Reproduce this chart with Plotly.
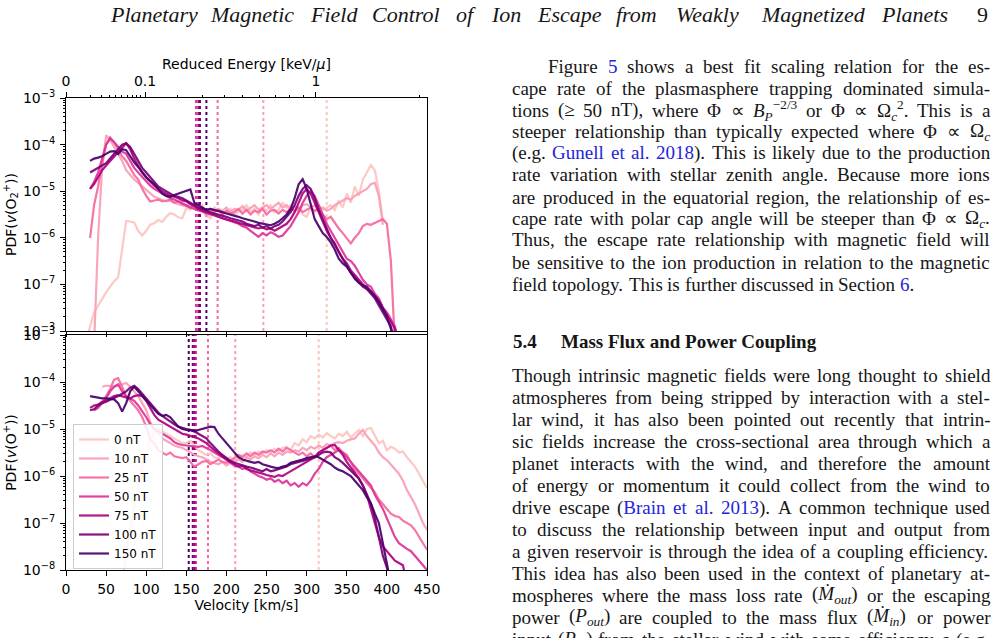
import re
import math
import plotly.graph_objects as go

FIG_W, FIG_H = 996, 638

# ---------------------------------------------------------------- data
# log10(PDF) sampled every V_STEP km/s, each series starting at its *_START velocity
V_STEP = 5
LABELS = ["0 nT", "10 nT", "25 nT", "50 nT", "75 nT", "100 nT", "150 nT"]
COLORS = ["#fcc5c0", "#fa9fb5", "#f768a1", "#dd3497", "#ae017e", "#7a0177", "#49006a"]

# ---- O2+ panel
O2_START = [25, 35, 30, 30, 30, 30, 30]
o2_0nT = [-8.3, -7.9, -7.6, -7.45, -7.3, -7.17, -7.05, -6.93, -6.85, -6.2, -5.64, -5.65, -5.67, -5.85, -5.95,
          -5.85, -5.72, -5.69, -5.62, -5.66, -5.55, -5.47, -5.5, -5.56, -5.58,
          -5.36, -5.4, -5.34, -5.42, -5.3, -5.45, -5.6, -5.35, -5.42, -5.5,
          -5.45, -5.38, -5.52, -5.44, -5.4, -5.3, -5.45, -5.38, -5.5, -5.35,
          -5.42, -5.3, -5.45, -5.4, -5.25, -5.35, -5.3, -5.42, -5.35, -5.5,
          -5.55, -5.35, -5.45, -5.3, -5.4, -5.35, -5.3, -5.4, -5.2, -5.35,
          -5.05, -5.25, -4.9, -5.1, -4.75, -4.6, -4.44, -4.55, -5.0, -5.65]
o2_10nT = [-8.3, -6.0, -4.5, -3.8, -3.9, -4.05, -4.2, -4.35, -4.55, -4.65, -4.75, -4.82, -4.9, -4.98,
           -5.05, -5.12, -5.15, -5.18, -5.22, -5.2, -5.25, -5.28, -5.3, -5.32,
           -5.35, -5.3, -5.4, -5.35, -5.55, -5.4, -5.45, -5.38, -5.42, -5.35,
           -5.45, -5.38, -5.4, -5.32, -5.42, -5.36, -5.3, -5.4, -5.35, -5.3,
           -5.38, -5.32, -5.25, -5.35, -5.3, -5.4, -5.32, -5.45, -5.3, -5.28,
           -5.35, -5.3, -5.4, -5.35, -5.42, -5.38, -5.3, -5.25, -5.2, -5.15,
           -5.18, -5.1, -5.05, -5.0, -4.95, -4.85, -4.82, -5.1, -5.72]
o2_25nT = [-6.0, -5.3, -4.9, -4.4, -4.0, -3.88, -3.95, -4.1, -4.25, -4.35, -4.5, -4.65, -4.75, -4.95, -5.1,
           -5.22, -5.2, -5.18, -5.22, -5.2, -5.18, -5.25, -5.22, -5.28, -5.3,
           -5.35, -5.32, -5.38, -5.35, -5.42, -5.38, -5.45, -5.4, -5.5, -5.42,
           -5.48, -5.45, -5.38, -5.48, -5.4, -5.5, -5.42, -5.45, -5.38, -5.5,
           -5.42, -5.4, -5.48, -5.4, -5.45, -5.38, -5.42, -5.35, -5.45, -5.4,
           -5.35, -5.42, -5.38, -5.5, -5.6, -5.55, -5.68, -5.8, -5.9, -6.0,
           -6.12, -6.0, -5.9, -5.75, -5.7, -5.72, -5.68, -5.65, -5.6, -5.7, -6.5, -8.3]
o2_50nT = [-4.95, -4.8, -4.6, -4.3, -4.0, -3.85, -3.95, -4.05, -4.15, -4.2, -4.35, -4.5, -4.6, -4.7, -4.8,
           -4.88, -4.95, -5.0, -5.05, -5.1, -5.15, -5.18, -5.22, -5.25, -5.3,
           -5.35, -5.38, -5.42, -5.45, -5.48, -5.5, -5.52, -5.55, -5.58, -5.62,
           -5.65, -5.68, -5.7, -5.75, -5.78, -5.85, -5.92, -5.98, -5.9, -5.95,
           -5.88, -5.92, -5.98, -5.95, -5.85, -5.75, -5.6, -5.45, -5.25, -5.1,
           -5.0, -5.1, -5.3, -5.5, -5.7, -5.85, -6.0, -6.15, -6.3, -6.45,
           -6.5, -6.6, -6.75, -6.9, -7.0, -7.05, -7.2, -7.3, -7.5, -7.6, -7.75, -7.9, -8.3]
o2_75nT = [-4.95, -4.85, -4.7, -4.55, -4.45, -4.35, -4.25, -4.15, -4.05, -3.97, -4.1, -4.3, -4.45, -4.6, -4.7,
           -4.8, -4.88, -4.95, -5.0, -5.05, -5.1, -5.12, -5.15, -5.2, -5.22,
           -5.28, -5.32, -5.38, -5.42, -5.45, -5.48, -5.52, -5.55, -5.58, -5.6,
           -5.62, -5.65, -5.68, -5.7, -5.72, -5.75, -5.78, -5.8, -5.78, -5.82,
           -5.8, -5.85, -5.8, -5.75, -5.7, -5.6, -5.45, -5.25, -5.05, -4.95,
           -5.05, -5.25, -5.45, -5.65, -5.85, -6.0, -6.12, -6.3, -6.45, -6.55,
           -6.7, -6.8, -6.9, -7.0, -7.1, -7.15, -7.25, -7.35, -7.5, -7.65, -7.8, -7.95, -8.3]
o2_100nT = [-4.6, -4.55, -4.5, -4.45, -4.4, -4.3, -4.2, -4.1, -4.0, -3.97, -4.05, -4.2, -4.35, -4.5, -4.6,
            -4.7, -4.8, -4.9, -4.95, -5.0, -5.05, -5.1, -5.12, -5.15, -5.2,
            -5.25, -5.3, -5.35, -5.38, -5.42, -5.45, -5.48, -5.5, -5.53, -5.55,
            -5.58, -5.6, -5.63, -5.65, -5.7, -5.72, -5.75, -5.72, -5.78, -5.75,
            -5.8, -5.75, -5.72, -5.65, -5.55, -5.45, -5.3, -5.1, -4.95, -4.87,
            -4.95, -5.15, -5.4, -5.6, -5.8, -6.0, -6.15, -6.3, -6.45, -6.6,
            -6.75, -6.85, -6.95, -7.05, -7.1, -7.2, -7.3, -7.45, -7.6, -7.75, -7.9, -8.3]
o2_150nT = [-4.35, -4.3, -4.28, -4.25, -4.2, -4.15, -4.14, -4.2, -4.1, -4.12, -4.25, -4.38, -4.48, -4.6, -4.7,
            -4.78, -4.85, -4.95, -5.05, -5.1, -5.12, -5.08, -5.05, -5.02, -4.98,
            -4.96, -5.25, -5.3, -5.35, -5.4, -5.38, -5.4, -5.42, -5.45, -5.48,
            -5.5, -5.52, -5.55, -5.58, -5.6, -5.62, -5.65, -5.68, -5.7, -5.72,
            -5.73, -5.7, -5.65, -5.58, -5.5, -5.38, -5.15, -4.85, -4.74, -4.95,
            -5.3, -5.6, -5.75, -5.9, -5.98, -6.1, -6.25, -6.45, -6.55, -6.62,
            -6.75, -6.88, -6.97, -7.02, -7.05, -7.15, -7.25, -7.38, -7.55, -7.69, -7.95, -8.3]
O2_SERIES = [o2_0nT, o2_10nT, o2_25nT, o2_50nT, o2_75nT, o2_100nT, o2_150nT]
O2_MEAN_V = [325, 246, 189, 162, 165, 167, 175]   # dotted lines, km/s

# ---- O+ panel
OP_START = [70, 45, 40, 35, 30, 30, 30]
op_0nT = [-8.3, -7.6, -7.1, -6.65, -6.2, -5.8, -5.5, -5.25, -5.05, -4.98, -5.05, -5.1, -5.15, -5.2, -5.25, -5.3,
          -5.3, -5.25, -5.35, -5.45, -5.5, -5.55, -5.52, -5.6, -5.62, -5.58,
          -5.65, -5.6, -5.68, -5.62, -5.55, -5.6, -5.5, -5.55, -5.48, -5.52,
          -5.45, -5.5, -5.42, -5.46, -5.4, -5.38, -5.45, -5.3, -5.35, -5.22,
          -5.28, -5.15, -5.2, -5.12, -5.18, -5.09, -5.15, -5.2, -5.1, -5.15,
          -5.06, -5.18, -5.1, -5.02, -5.15, -5.0, -4.98, -5.15, -5.3, -5.25,
          -5.45, -5.38, -5.42, -5.5, -5.48, -5.6, -5.7, -5.8, -5.95, -6.1, -6.26]
op_10nT = [-4.1, -4.08, -4.08, -4.1, -4.08, -4.05, -4.02, -4.1, -4.2, -4.3, -4.45, -4.6,
           -4.85, -5.0, -5.1, -5.2, -5.25, -5.3, -5.35, -5.38, -5.4, -5.45,
           -5.5, -5.55, -5.58, -5.6, -5.65, -5.7, -5.72, -5.75, -5.7, -5.78,
           -5.72, -5.7, -5.65, -5.7, -5.6, -5.65, -5.58, -5.62, -5.55, -5.6,
           -5.52, -5.58, -5.5, -5.55, -5.48, -5.5, -5.45, -5.48, -5.4, -5.45,
           -5.38, -5.42, -5.35, -5.4, -5.32, -5.35, -5.3, -5.28, -5.3, -5.25,
           -5.22, -5.2, -5.1, -5.02, -5.15, -5.25, -5.35, -5.5, -5.6, -5.66,
           -5.75, -5.85, -5.95, -6.1, -6.3, -6.45, -6.6, -6.8, -7.0, -7.15]
op_25nT = [-4.5, -4.45, -4.3, -4.15, -3.95, -3.92, -4.1, -4.3, -4.4, -4.5, -4.6, -4.75, -4.95,
           -5.23, -5.3, -5.45, -5.5, -5.55, -5.5, -5.58, -5.6, -5.62, -5.6,
           -5.7, -5.8, -5.75, -5.7, -5.68, -5.75, -5.7, -5.65, -5.7, -5.72,
           -5.68, -5.62, -5.55, -5.6, -5.52, -5.58, -5.5, -5.55, -5.48, -5.5,
           -5.45, -5.5, -5.42, -5.48, -5.4, -5.45, -5.5, -5.55, -5.5, -5.58,
           -5.52, -5.6, -5.5, -5.45, -5.4, -5.35, -5.45, -5.4, -5.5, -5.55,
           -5.7, -5.87, -5.95, -6.05, -6.15, -6.23, -6.35, -6.5, -6.6, -6.72,
           -6.8, -6.85, -6.87, -6.95, -7.0, -7.05, -7.15, -7.3, -7.45, -7.57]
op_50nT = [-4.6, -4.55, -4.45, -4.35, -4.2, -4.1, -4.05, -4.2, -4.3, -4.35, -4.4, -4.5, -4.62, -4.75,
           -4.9, -5.0, -5.05, -5.1, -5.15, -5.2, -5.28, -5.32, -5.34, -5.35,
           -5.36, -5.37, -5.38, -5.36, -5.4, -5.45, -5.5, -5.55, -5.6, -5.65,
           -5.72, -5.78, -5.8, -5.85, -5.82, -5.9, -5.95, -6.0, -6.03, -6.08,
           -6.05, -6.12, -6.08, -6.15, -6.1, -6.2, -6.15, -6.23, -6.15, -6.2,
           -6.1, -5.95, -5.85, -5.7, -5.6, -5.55, -5.5, -5.45, -5.5, -5.6,
           -5.7, -5.8, -5.9, -6.0, -6.09, -6.2, -6.4, -6.55, -6.7, -6.9,
           -7.1, -7.3, -7.43, -7.5, -7.55, -7.6, -7.7, -7.8, -7.9, -8.0]
op_75nT = [-4.55, -4.5, -4.48, -4.42, -4.4, -4.35, -4.3, -4.28, -4.3, -4.32, -4.35, -4.3, -4.28, -4.3, -4.4,
           -4.55, -4.7, -4.8, -4.85, -4.9, -4.95, -5.0, -5.05, -5.1, -5.12,
           -5.15, -5.18, -5.2, -5.25, -5.3, -5.38, -5.45, -5.52, -5.58, -5.65,
           -5.7, -5.75, -5.8, -5.78, -5.85, -5.88, -5.9, -5.92, -5.95, -5.98,
           -6.0, -6.02, -5.98, -6.0, -5.95, -5.9, -5.85, -5.8, -5.75, -5.7,
           -5.65, -5.6, -5.5, -5.45, -5.4, -5.35, -5.34, -5.45, -5.55, -5.7,
           -5.82, -5.94, -6.05, -6.2, -6.4, -6.7, -7.0, -7.3, -7.5, -7.6,
           -7.7, -7.8, -7.85, -7.9, -8.3]
op_100nT = [-4.6, -4.58, -4.5, -4.45, -4.42, -4.38, -4.35, -4.3, -4.25, -4.2, -4.12, -4.08, -4.15, -4.25, -4.35,
            -4.45, -4.55, -4.65, -4.72, -4.78, -4.85, -4.9, -4.95, -4.98, -5.0,
            -5.02, -5.05, -5.1, -5.15, -5.2, -5.3, -5.4, -5.48, -5.55, -5.62,
            -5.68, -5.72, -5.75, -5.78, -5.8, -5.82, -5.85, -5.88, -5.9, -5.85,
            -5.9, -5.88, -5.85, -5.82, -5.8, -5.75, -5.72, -5.7, -5.68, -5.65,
            -5.62, -5.6, -5.55, -5.5, -5.48, -5.5, -5.6, -5.65, -5.72, -5.8,
            -5.88, -5.95, -6.05, -6.2, -6.4, -6.58, -6.9, -7.3, -7.7, -7.95, -8.3]
op_150nT = [-4.3, -4.32, -4.33, -4.35, -4.35, -4.36, -4.37, -4.45, -4.63, -4.45, -4.2, -4.1, -4.2, -4.3, -4.38,
            -4.5, -4.6, -4.68, -4.72, -4.7, -4.75, -4.85, -4.95, -5.0, -5.02,
            -5.02, -5.05, -5.02, -5.0, -4.98, -4.95, -4.96, -5.1, -5.2, -5.3,
            -5.4, -5.5, -5.6, -5.65, -5.68, -5.7, -5.72, -5.7, -5.75, -5.78,
            -5.8, -5.82, -5.83, -5.8, -5.78, -5.72, -5.7, -5.68, -5.65, -5.62,
            -5.6, -5.58, -5.6, -5.65, -5.7, -5.75, -5.82, -5.87, -5.9, -5.95,
            -6.0, -6.1, -6.2, -6.3, -6.45, -6.58, -6.8, -7.0, -7.43, -7.9, -8.3]
OP_SERIES = [op_0nT, op_10nT, op_25nT, op_50nT, op_75nT, op_100nT, op_150nT]
OP_MEAN_V = [315, 211, 177, 162, 160, 158, 153]   # dotted lines, km/s

# ---- axes
V_RANGE = [0, 450]
V_TICKS = [0, 50, 100, 150, 200, 250, 300, 350, 400, 450]
Y_EXP = [-8, -7, -6, -5, -4, -3]
O2_Y_LABEL_EXP = [-3, -7, -6, -5, -4, -3]   # as printed on the upper panel
OP_Y_LABEL_EXP = [-8, -7, -6, -5, -4, -3]
E_MAJOR = [0, 0.1, 1]
E_MAJOR_TEXT = ["0", "0.1", "1"]
E_MINOR = [0.01, 0.02, 0.03, 0.04, 0.05, 0.06, 0.07, 0.08, 0.09,
           0.2, 0.3, 0.4, 0.5, 0.6, 0.7, 0.8, 0.9, 2]
V_AT_1KEV = 311.5   # velocity (km/s) under the "1" tick of the energy axis

# ---------------------------------------------------------------- helpers
def pxx(x):
    return x / FIG_W


def pxy(y):
    return 1 - y / FIG_H


def e_to_v(e):
    return V_AT_1KEV * math.sqrt(e)


def sup_label(e):
    return "10<sup>\u2212%d</sup>" % (-e)


fig = go.Figure()

for lab, col, start, vals in zip(LABELS, COLORS, O2_START, O2_SERIES):
    fig.add_trace(go.Scatter(
        x=[start + V_STEP * i for i in range(len(vals))], y=[10 ** v for v in vals],
        mode="lines", line=dict(color=col, width=2.2), opacity=0.92,
        xaxis="x", yaxis="y", showlegend=False, name=lab))

for lab, col, start, vals in zip(LABELS, COLORS, OP_START, OP_SERIES):
    fig.add_trace(go.Scatter(
        x=[start + V_STEP * i for i in range(len(vals))], y=[10 ** v for v in vals],
        mode="lines", line=dict(color=col, width=2.2), opacity=0.92,
        xaxis="x2", yaxis="y2", showlegend=True, name=lab))

# empty trace so that the energy axis (x3) is drawn
fig.add_trace(go.Scatter(x=V_RANGE, y=[None, None], mode="lines", xaxis="x3", yaxis="y",
                         showlegend=False, hoverinfo="skip"))

shapes = []
for col, v in zip(COLORS, O2_MEAN_V):
    shapes.append(dict(type="line", xref="x", yref="y domain", x0=v, x1=v, y0=0, y1=1,
                       line=dict(color=col, width=2, dash="dot"), layer="below"))
for col, v in zip(COLORS, OP_MEAN_V):
    shapes.append(dict(type="line", xref="x2", yref="y2 domain", x0=v, x1=v, y0=0, y1=1,
                       line=dict(color=col, width=2, dash="dot"), layer="below"))

TICK_FONT = dict(family="DejaVu Sans", size=14, color="black")
TITLE_FONT = dict(family="DejaVu Sans", size=14, color="black")
axis_common = dict(showline=True, linecolor="black", linewidth=1, mirror=True,
                   ticks="outside", ticklen=5, tickwidth=1, tickcolor="black",
                   showgrid=False, zeroline=False, tickfont=TICK_FONT, automargin=False)
minor_y = dict(ticks="outside", ticklen=2, tickcolor="black", tickmode="array",
               tickvals=[k * 10.0 ** e for e in range(-8, -3) for k in range(2, 10)])

X_DOM = [pxx(66), pxx(427)]

fig.update_layout(
    width=FIG_W, height=FIG_H, autosize=False,
    margin=dict(l=0, r=0, t=0, b=0, pad=0, autoexpand=False),
    paper_bgcolor="white", plot_bgcolor="white",
    font=dict(family="DejaVu Sans", size=14, color="black"),
    xaxis=dict(domain=X_DOM, anchor="y", range=V_RANGE, tickmode="array", tickvals=V_TICKS,
               showticklabels=False, **axis_common),
    yaxis=dict(domain=[pxy(331), pxy(98)], anchor="x", type="log", range=[-8, -3],
               tickmode="array", tickvals=[10.0 ** e for e in Y_EXP],
               ticktext=[sup_label(e) for e in O2_Y_LABEL_EXP], minor=minor_y,
               ticklabelstandoff=2,
               title=dict(text="PDF(<i>v</i>(O<sub>2</sub><sup>+</sup>))", standoff=3,
                          font=TITLE_FONT),
               **axis_common),
    xaxis3=dict(overlaying="x", side="top", anchor="y", range=V_RANGE, tickmode="array",
                tickvals=[e_to_v(e) for e in E_MAJOR], ticktext=E_MAJOR_TEXT,
                minor=dict(ticks="outside", ticklen=2, tickcolor="black", tickmode="array",
                           tickvals=[e_to_v(e) for e in E_MINOR]),
                ticks="outside", ticklen=5, tickcolor="black", showline=False, showgrid=False,
                zeroline=False, tickfont=TICK_FONT, automargin=False, ticklabelstandoff=0,
                title=dict(text="Reduced Energy [keV/<i>\u03bc</i>]", standoff=0,
                           font=TITLE_FONT)),
    xaxis2=dict(domain=X_DOM, anchor="y2", range=V_RANGE, tickmode="array", tickvals=V_TICKS,
                ticklabelstandoff=1,
                title=dict(text="Velocity [km/s]", standoff=3, font=TITLE_FONT),
                **axis_common),
    yaxis2=dict(domain=[pxy(570), pxy(335)], anchor="x2", type="log", range=[-8, -3],
                tickmode="array", tickvals=[10.0 ** e for e in Y_EXP],
                ticktext=[sup_label(e) for e in OP_Y_LABEL_EXP], minor=minor_y,
                ticklabelstandoff=2,
                title=dict(text="PDF(<i>v</i>(O<sup>+</sup>))", standoff=3, font=TITLE_FONT),
                **axis_common),
    legend=dict(x=pxx(73), y=pxy(424), xanchor="left", yanchor="top",
                bgcolor="rgba(255,255,255,0.85)", bordercolor="#cccccc", borderwidth=1,
                font=dict(family="DejaVu Sans", size=12, color="black"),
                itemwidth=30, tracegroupgap=0),
    shapes=shapes,
    showlegend=True,
)

# ---------------------------------------------------------------- page text
TW = {}
for ch, w in zip("abcdefghijklmnopqrstuvwxyz",
                 [444, 500, 444, 500, 444, 333, 500, 500, 278, 278, 500, 278, 778, 500, 500, 500, 500,
                  333, 389, 278, 500, 500, 722, 500, 500, 444]):
    TW[ch] = w
for ch, w in zip("ABCDEFGHIJKLMNOPQRSTUVWXYZ",
                 [722, 667, 667, 722, 611, 556, 722, 722, 333, 389, 722, 611, 889, 722, 722, 556, 722,
                  667, 556, 611, 722, 722, 944, 722, 722, 611]):
    TW[ch] = w
TW.update({" ": 250, ".": 250, ",": 250, "(": 333, ")": 333, "-": 333, ":": 278, ";": 278, "/": 278,
           "\u2265": 549, "\u03a6": 763, "\u221d": 713, "\u03a9": 768, "\u03b5": 439, "\u1e40": 889,
           "\u2212": 564})

BLUE_OPEN = "<span style='color:#2424d8'>"
TEXT_COLOR = "#161616"
annotations = []


def text_width(html, size):
    w, scale = 0.0, 1.0
    for part in re.split(r"(<[^>]+>)", html):
        if part.startswith("<"):
            if part in ("<sub>", "<sup>"):
                scale = 0.7
            elif part in ("</sub>", "</sup>"):
                scale = 1.0
            continue
        for ch in part:
            w += TW.get(ch, 500) / 1000.0 * size * scale
    return w


def tokens_of(line):
    out, blue = [], False
    for tok in line.split(" "):
        buf = BLUE_OPEN if blue else ""
        for ch in tok:
            if ch == "{":
                blue = True
                buf += BLUE_OPEN
            elif ch == "}":
                blue = False
                buf += "</span>"
            else:
                buf += ch
        if blue:
            buf += "</span>"
        out.append(buf.replace(BLUE_OPEN + "</span>", ""))
    return out


def add_line(line, x0, x1, y, size, justify=True, wrap=None, family="Liberation Serif"):
    toks = tokens_of(line)
    if wrap:
        toks = ["<%s>%s</%s>" % (wrap, t, wrap) for t in toks]
    widths = [text_width(t, size) for t in toks]
    space = 0.25 * size
    gap = space
    if justify and len(toks) > 1:
        gap = max((x1 - x0 - sum(widths)) / (len(toks) - 1), 0.5 * space)
    x = x0
    for t, w in zip(toks, widths):
        annotations.append(dict(text=t, x=pxx(x), y=pxy(y), xref="paper", yref="paper",
                                xanchor="left", yanchor="middle", showarrow=False, borderpad=0,
                                borderwidth=0,
                                font=dict(family=family, size=size, color=TEXT_COLOR)))
        x += w + gap


# header
add_line("Planetary Magnetic Field Control of Ion Escape from Weakly Magnetized Planets",
         110, 945, 15, 22, justify=True, wrap="i")
annotations.append(dict(text="9", x=pxx(990), y=pxy(15), xref="paper", yref="paper",
                        xanchor="right", yanchor="middle", showarrow=False,
                        font=dict(family="Liberation Serif", size=22, color=TEXT_COLOR)))

BODY = 19
para1 = [
    "Figure {5} shows a best fit scaling relation for the es-",
    "cape rate of the plasmasphere trapping dominated simula-",
    "tions (\u2265 50 nT), where \u03a6 \u221d <i>B</i><sub><i>P</i></sub><sup>\u22122/3</sup> or \u03a6 \u221d \u03a9<sub><i>c</i></sub><sup>2</sup>. This is a",
    "steeper relationship than typically expected where \u03a6 \u221d \u03a9<sub><i>c</i></sub>",
    "(e.g. {Gunell et al. 2018}). This is likely due to the production",
    "rate variation with stellar zenith angle. Because more ions",
    "are produced in the equatorial region, the relationship of es-",
    "cape rate with polar cap angle will be steeper than \u03a6 \u221d \u03a9<sub><i>c</i></sub>.",
    "Thus, the escape rate relationship with magnetic field will",
    "be sensitive to the ion production in relation to the magnetic",
    "field topology. This is further discussed in Section {6}.",
]
para1_y = [66.5, 88, 110, 132, 153, 175, 197, 218.5, 240, 262, 284]
for i, (line, y) in enumerate(zip(para1, para1_y)):
    add_line(line, 548 if i == 0 else 512, 990, y, BODY, justify=(i < len(para1) - 1))

annotations.append(dict(text="<b>5.4</b>", x=pxx(512), y=pxy(341), xref="paper", yref="paper",
                        xanchor="left", yanchor="middle", showarrow=False, borderpad=0,
                        font=dict(family="Liberation Serif", size=19, color=TEXT_COLOR)))
annotations.append(dict(text="<b>Mass Flux and Power Coupling</b>", x=pxx(560), y=pxy(341),
                        xref="paper", yref="paper", xanchor="left", yanchor="middle",
                        showarrow=False, borderpad=0,
                        font=dict(family="Liberation Serif", size=19, color=TEXT_COLOR)))

para2 = [
    "Though intrinsic magnetic fields were long thought to shield",
    "atmospheres from being stripped by interaction with a stel-",
    "lar wind, it has also been pointed out recently that intrin-",
    "sic fields increase the cross-sectional area through which a",
    "planet interacts with the wind, and therefore the amount",
    "of energy or momentum it could collect from the wind to",
    "drive escape ({Brain et al. 2013}). A common technique used",
    "to discuss the relationship between input and output from",
    "a given reservoir is through the idea of a coupling efficiency.",
    "This idea has also been used in the context of planetary at-",
    "mospheres where the mass loss rate (<i>\u1e40</i><sub><i>out</i></sub>) or the escaping",
    "power (<i>P</i><sub><i>out</i></sub>) are coupled to the mass flux (<i>\u1e40</i><sub><i>in</i></sub>) or power",
    "input (<i>P</i><sub><i>in</i></sub>) from the stellar wind with some efficiency <i>\u03b5</i> (e.g.",
]
para2_y = [375, 397.5, 419.5, 441.5, 463.5, 485.5, 507.5, 529.5, 551.5, 573, 595, 617, 640]
for line, y in zip(para2, para2_y):
    add_line(line, 512, 990, y, BODY, justify=True)

fig.update_layout(annotations=annotations)

fig.write_html("out.html")
